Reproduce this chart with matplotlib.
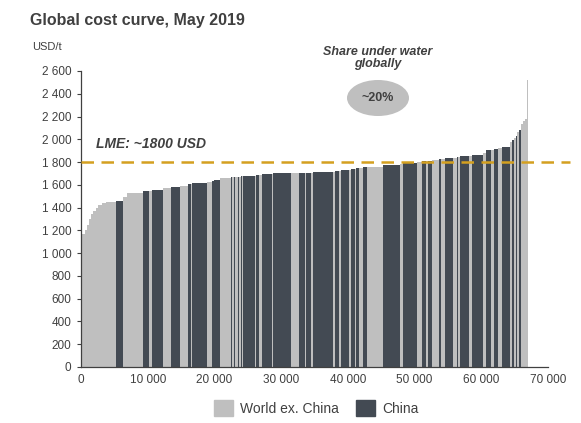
import numpy as np
import matplotlib.pyplot as plt
from matplotlib.patches import Ellipse
from matplotlib.ticker import FuncFormatter

plt.rcParams['font.family'] = ['Liberation Sans', 'DejaVu Sans']

# capacity (kt) of each smelter block, cash cost (USD/t), region: W = world ex. China, C = China
widths = [600, 300, 300, 300, 300, 400, 400, 500, 600, 1550,
          1050, 600, 2400, 900, 450, 1650, 1200, 1350, 1200, 450,
          150, 2250, 750, 250, 100, 850, 1350,
          300, 200, 300, 150, 400, 200, 200, 150, 200,
          1800, 150, 450, 400, 1550, 150, 2700, 1200, 900, 150,
          750, 300, 3000, 300, 600, 300, 1200, 250, 600, 250,
          350, 650, 600, 2400, 2550, 450, 2100, 750, 600, 300,
          600, 1050, 350, 550, 1200, 500, 250, 300, 1350, 450,
          1650, 450, 700, 400, 700, 500, 1250, 300, 300, 300,
          200, 300, 200, 300, 300, 300, 150]
costs = [1170, 1200, 1250, 1300, 1340, 1370, 1400, 1420, 1440, 1450,
         1460, 1495, 1530, 1547, 1550, 1555, 1573, 1582, 1590, 1605,
         1608, 1617, 1625, 1630, 1632, 1640, 1660,
         1662, 1665, 1666, 1668, 1670, 1672, 1673, 1674, 1675,
         1678, 1680, 1685, 1690, 1696, 1698, 1700, 1701, 1703, 1704,
         1705, 1707, 1713, 1716, 1722, 1725, 1731, 1733, 1737, 1740,
         1745, 1750, 1755, 1757, 1775, 1785, 1793, 1800, 1805, 1808,
         1812, 1818, 1825, 1830, 1836, 1840, 1842, 1845, 1850, 1855,
         1863, 1880, 1907, 1910, 1916, 1925, 1933, 1977, 1990, 2012,
         2030, 2065, 2080, 2130, 2160, 2180, 2520]
region = list("WWWWWWWWWW"
              "CWWCWCWCWC"
              "WCWCWCW"
              "WCWCWCWCW"
              "CWCWCWCWCW"
              "CWCWCWCWCW"
              "CWCWCWCWCW"
              "CWCWCWCWCW"
              "CWCWCWCWCW"
              "CWCWWWW")

light = '#bfbfbf'
dark = '#434a53'
text_col = '#404040'

fig = plt.figure(figsize=(5.81, 4.23), dpi=100)
ax = fig.add_axes([0.1394, 0.1324, 0.8036, 0.6998])

lefts = np.concatenate([[0], np.cumsum(widths)[:-1]])
colors = [dark if r == 'C' else light for r in region]
ax.bar(lefts, costs, width=widths, align='edge', color=colors, linewidth=0)

# LME price line
ax.plot([0, 73300], [1800, 1800], color='#d4a020', lw=1.8, dashes=(5, 3), clip_on=False, zorder=5)
ax.text(2300, 1960, 'LME: ~1800 USD', fontsize=10, fontweight='bold', style='italic',
        color=text_col, va='center')

ax.set_xlim(0, 70000)
ax.set_ylim(0, 2600)
ax.set_yticks(np.arange(0, 2601, 200))
ax.set_xticks(np.arange(0, 70001, 10000))
fmt = FuncFormatter(lambda v, p: f'{int(v):,}'.replace(',', ' '))
ax.yaxis.set_major_formatter(fmt)
ax.xaxis.set_major_formatter(fmt)
ax.tick_params(axis='y', length=3, color=text_col, labelsize=8.5, labelcolor=text_col, pad=4)
ax.tick_params(axis='x', length=0, labelsize=8.5, labelcolor=text_col, pad=5)
for s in ['top', 'right']:
    ax.spines[s].set_visible(False)
for s in ['left', 'bottom']:
    ax.spines[s].set_color(text_col)
    ax.spines[s].set_linewidth(0.9)

fig.text(30 / 581, 1 - 20 / 423, 'Global cost curve, May 2019', fontsize=11.5,
         fontweight='bold', color=text_col, va='center')
fig.text(32 / 581, 1 - 47 / 423, 'USD/t', fontsize=8, color=text_col, va='center')

fig.text(378 / 581, 1 - 58 / 423, 'Share under water\nglobally', fontsize=9,
         fontweight='bold', style='italic', color=text_col, ha='center', va='center',
         linespacing=1.1)
fig.add_artist(Ellipse((378 / 581, 1 - 98 / 423), 62 / 581, 36 / 423,
                       transform=fig.transFigure, facecolor=light, edgecolor='none'))
fig.text(378 / 581, 1 - 98 / 423, '~20%', fontsize=9, fontweight='bold',
         color=text_col, ha='center', va='center')

handles = [plt.Rectangle((0, 0), 1, 1, color=light), plt.Rectangle((0, 0), 1, 1, color=dark)]
fig.legend(handles, ['World ex. China', 'China'], loc='center', ncol=2,
           bbox_to_anchor=(316 / 581, 1 - 408 / 423), frameon=False, fontsize=10,
           handlelength=1.4, handleheight=1.4, handletextpad=0.5, columnspacing=1.2,
           labelcolor=text_col)

fig.savefig('out.png', dpi=100)
